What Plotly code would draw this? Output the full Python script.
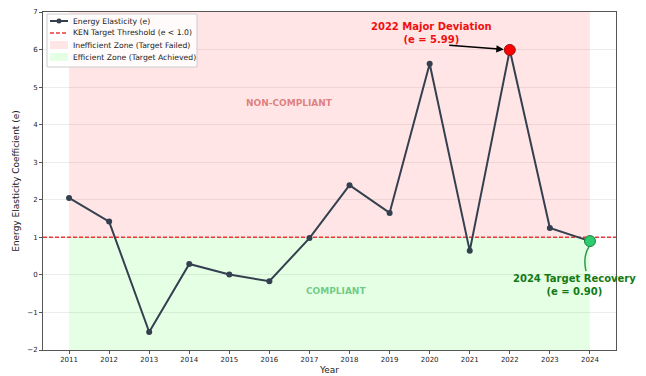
import plotly.graph_objects as go

years = [2011, 2012, 2013, 2014, 2015, 2016, 2017, 2018, 2019, 2020, 2021, 2022, 2023, 2024]
elasticity = [2.05, 1.42, -1.52, 0.29, 0.01, -0.17, 0.98, 2.39, 1.65, 5.62, 0.64, 5.99, 1.25, 0.90]
threshold = 1.0
y_min, y_max = -2, 7
x_range = [2010.35, 2024.65]

legend_labels = ["Energy Elasticity (e)", "KEN Target Threshold (e < 1.0)",
                 "Inefficient Zone (Target Failed)", "Efficient Zone (Target Achieved)"]

font_family = "DejaVu Sans"
line_col = "#34404f"
thr_col = "rgba(235,35,35,0.9)"
red_fill = "rgba(255,0,0,0.10)"
green_fill = "rgba(0,255,0,0.10)"

W, H = 646, 376
L, R, T, B = 43, 30, 12, 26
PW, PH = W - L - R, H - T - B


def px(x):
    return (x - L) / PW


def py(y):
    return (H - B - y) / PH


fig = go.Figure()

# zones
fig.add_trace(go.Scatter(
    x=[years[0], years[-1], years[-1], years[0], years[0]],
    y=[threshold, threshold, y_max, y_max, threshold],
    fill="toself", fillcolor=red_fill, line=dict(width=0),
    mode="lines", showlegend=False, hoverinfo="skip"))
fig.add_trace(go.Scatter(
    x=[years[0], years[-1], years[-1], years[0], years[0]],
    y=[y_min, y_min, threshold, threshold, y_min],
    fill="toself", fillcolor=green_fill, line=dict(width=0),
    mode="lines", showlegend=False, hoverinfo="skip"))

# threshold line
fig.add_trace(go.Scatter(
    x=x_range, y=[threshold, threshold], mode="lines",
    line=dict(color=thr_col, width=1.5, dash="4px,2px"), showlegend=False))

# main series
fig.add_trace(go.Scatter(
    x=years, y=elasticity, mode="lines+markers",
    line=dict(color=line_col, width=2),
    marker=dict(size=6, color=line_col), showlegend=False))

# highlight points
fig.add_trace(go.Scatter(
    x=[years[11]], y=[elasticity[11]], mode="markers",
    marker=dict(size=11, color="#ff0000", line=dict(color="#8b1a1a", width=1)),
    showlegend=False))
fig.add_trace(go.Scatter(
    x=[years[13]], y=[elasticity[13]], mode="markers",
    marker=dict(size=11, color="#2ecc71", line=dict(color="#1e7d3c", width=1)),
    showlegend=False))

# annotations
fig.add_annotation(x=2020.05, y=6.44, text="<b>2022 Major Deviation<br>(e = 5.99)</b>",
                   showarrow=False, font=dict(family=font_family, size=10, color="#ee1111"))
fig.add_annotation(x=years[11], y=elasticity[11], ax=2020.45, ay=6.12, axref="x", ayref="y",
                   text="", showarrow=True, arrowhead=2, arrowsize=1, arrowwidth=1.5,
                   arrowcolor="black", standoff=6)
fig.add_annotation(x=2023.62, y=-0.27, text="<b>2024 Target Recovery<br>(e = 0.90)</b>",
                   showarrow=False, font=dict(family=font_family, size=10, color="#137a13"))
fig.add_shape(type="path", xref="x", yref="y",
              path="M 2023.9,0.1 Q 2023.82,0.5 2023.98,0.76",
              line=dict(color="#2e9a4e", width=1.5))
fig.add_annotation(x=2016.5, y=4.57, text="<b>NON-COMPLIANT</b>", showarrow=False,
                   font=dict(family=font_family, size=9, color="rgba(205,70,70,0.65)"))
fig.add_annotation(x=2017.65, y=-0.42, text="<b>COMPLIANT</b>", showarrow=False,
                   font=dict(family=font_family, size=9, color="rgba(60,180,90,0.7)"))

# manual legend (compact, matplotlib-like)
fig.add_shape(type="rect", xref="paper", yref="paper",
              x0=px(47), x1=px(197), y0=py(67), y1=py(14),
              fillcolor="rgba(255,255,255,0.85)", line=dict(color="#cccccc", width=1))
rows = [21, 33, 45, 57]
sx0, sx1, tx = 50, 68, 71
fig.add_shape(type="line", xref="paper", yref="paper", x0=px(sx0), x1=px(sx1),
              y0=py(rows[0]), y1=py(rows[0]), line=dict(color=line_col, width=2))
fig.add_shape(type="circle", xref="paper", yref="paper", x0=px(56.5), x1=px(61.5),
              y0=py(rows[0] + 2.5), y1=py(rows[0] - 2.5), fillcolor=line_col,
              line=dict(color=line_col, width=0))
fig.add_shape(type="line", xref="paper", yref="paper", x0=px(sx0), x1=px(sx1),
              y0=py(rows[1]), y1=py(rows[1]), line=dict(color=thr_col, width=1.5, dash="4px,2px"))
fig.add_shape(type="rect", xref="paper", yref="paper", x0=px(sx0), x1=px(sx1),
              y0=py(rows[2] + 4), y1=py(rows[2] - 4), fillcolor=red_fill, line=dict(width=0))
fig.add_shape(type="rect", xref="paper", yref="paper", x0=px(sx0), x1=px(sx1),
              y0=py(rows[3] + 4), y1=py(rows[3] - 4), fillcolor=green_fill, line=dict(width=0))
for r, lab in zip(rows, legend_labels):
    fig.add_annotation(xref="paper", yref="paper", x=px(tx), y=py(r), text=lab,
                       xanchor="left", yanchor="middle", showarrow=False,
                       font=dict(family=font_family, size=7.7, color="#222"))

fig.update_layout(
    width=W, height=H,
    margin=dict(l=L, r=R, t=T, b=B),
    plot_bgcolor="white", paper_bgcolor="white",
    font=dict(family=font_family, size=7, color="#222"),
    showlegend=False,
)
fig.update_xaxes(range=x_range, tickmode="array", tickvals=years, ticktext=[str(y) for y in years],
                 showgrid=False, zeroline=False, showline=True, linecolor="#555", linewidth=1,
                 mirror=True, ticks="outside", ticklen=3, tickcolor="#555", automargin=False,
                 title=dict(text="Year", font=dict(size=9), standoff=3))
fig.update_yaxes(range=[y_min, y_max], dtick=1, showgrid=True, gridcolor="rgba(200,200,200,0.35)",
                 zeroline=False, showline=True, linecolor="#555", linewidth=1, mirror=True,
                 ticks="outside", ticklen=3, tickcolor="#555", automargin=False,
                 title=dict(text="Energy Elasticity Coefficient (e)", font=dict(size=9), standoff=6))

fig.write_html("out.html")
